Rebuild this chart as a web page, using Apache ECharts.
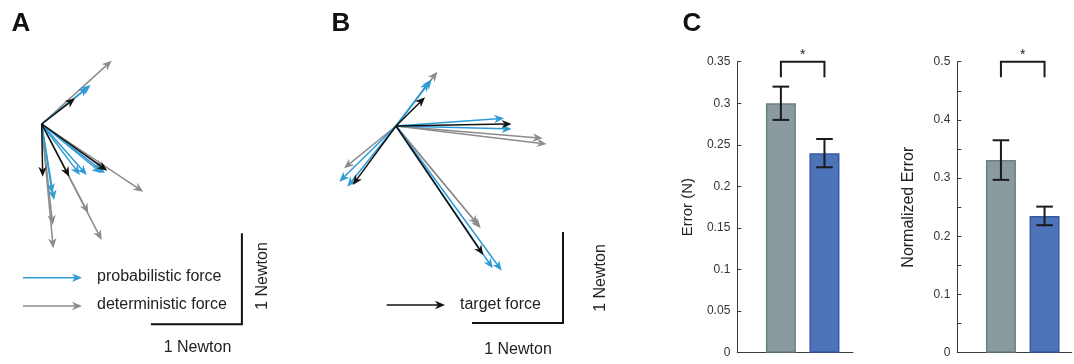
<!DOCTYPE html>
<html><head><meta charset="utf-8">
<script src="https://cdn.jsdelivr.net/npm/echarts@6/dist/echarts.min.js"></script>
<style>html,body{margin:0;padding:0;background:#fff}#c{width:1074px;height:364px}</style>
</head><body><div id="c"></div>
<script>
// ---------- DATA ----------
// Panel A: force vectors [dx, dy] in Newton, from common origin
const A_target = [[0.366,0.282],[0.011,-0.579],[0.303,-0.579],[0.721,-0.513]];
const A_prob   = [[0.512,0.403],[0.538,0.429],[0.116,-0.762],[0.135,-0.835],[0.421,-0.560],[0.495,-0.560],[0.659,-0.541],[0.696,-0.541]];
const A_det    = [[0.769,0.696],[0.121,-1.110],[0.127,-1.366],[0.512,-0.981],[0.659,-1.275],[1.116,-0.744],[0.685,-0.495]];
// Panel B
const B_target = [[0.319,0.315],[1.271,0.022],[-0.476,-0.648],[0.959,-1.418]];
const B_prob   = [[0.392,0.513],[0.366,0.487],[1.187,0.085],[1.271,-0.033],[-0.623,-0.612],[-0.535,-0.667],[1.063,-1.564],[1.162,-1.590]];
const B_det    = [[0.454,0.597],[1.612,-0.135],[1.656,-0.198],[-0.571,-0.465],[0.904,-1.088],[0.931,-1.124]];
// Panel C
const C_categories = ['deterministic','probabilistic'];
const C_error      = [0.300, 0.240];
const C_errorSE    = [0.020, 0.017];
const C_norm       = [0.331, 0.235];
const C_normSE     = [0.034, 0.016];
const C1_ticks = ['0','0.05','0.1','0.15','0.2','0.25','0.3','0.35'];
const C2_ticks = ['0','0.1','0.2','0.3','0.4','0.5'];
const SCALE_N = 1; // scale bar length, Newton

// ---------- LAYOUT ----------
const PX = 91; // pixels per Newton
const FONT = '"Liberation Sans", Arial, sans-serif';
const BLUE = '#2f9bd4', GRAY = '#8b8b8b', BLACK = '#111111';
const GRAY_BAR = '#8b9a9e', GRAY_EDGE = '#6b8186', BLUE_BAR = '#4d74b8', BLUE_EDGE = '#3858a4';

const chart = echarts.init(document.getElementById('c'), null, {renderer: 'canvas'});

function headPts(t, ux, uy) {
  const L = 10, W = 4.2, N = 3;
  const nx = -uy, ny = ux;
  const base = [t[0] - ux * L, t[1] - uy * L];
  const notch = [t[0] - ux * (L - N), t[1] - uy * (L - N)];
  return {poly: [t, [base[0] + nx * W, base[1] + ny * W], notch, [base[0] - nx * W, base[1] - ny * W]], notch};
}
function arrowRender(color) {
  return function (params, api) {
    const o = api.coord([0, 0]);
    const t = api.coord([api.value(0), api.value(1)]);
    const dx = t[0] - o[0], dy = t[1] - o[1];
    const len = Math.hypot(dx, dy);
    const ux = dx / len, uy = dy / len;
    const h = headPts(t, ux, uy);
    return {type: 'group', children: [
      {type: 'line', shape: {x1: o[0], y1: o[1], x2: h.notch[0], y2: h.notch[1]}, style: {stroke: color, lineWidth: 1.5}},
      {type: 'polygon', shape: {points: h.poly}, style: {fill: color}}
    ]};
  };
}
function legendArrow(x1, x2, y, color) {
  const h = headPts([x2, y], 1, 0);
  return {type: 'group', children: [
    {type: 'line', shape: {x1: x1, y1: y, x2: h.notch[0], y2: y}, style: {stroke: color, lineWidth: 1.5}},
    {type: 'polygon', shape: {points: h.poly}, style: {fill: color}}
  ]};
}
function scaleBarRender(params, api) {
  const cx = api.value(0), cy = api.value(1);
  const p0 = api.coord([cx, cy]);
  const pu = api.coord([cx, cy + SCALE_N]);
  const pl = api.coord([cx - SCALE_N, cy]);
  return {type: 'polyline', shape: {points: [pu, p0, pl]}, style: {stroke: '#111', lineWidth: 2, fill: null}};
}
function errRender(params, api) {
  const x = api.value(0), lo = api.value(1), hi = api.value(2);
  const a = api.coord([x, lo]), b = api.coord([x, hi]);
  const w = 8.3;
  const st = {stroke: '#1a1a1a', lineWidth: 2};
  return {type: 'group', children: [
    {type: 'line', shape: {x1: a[0], y1: a[1], x2: b[0], y2: b[1]}, style: st},
    {type: 'line', shape: {x1: a[0] - w, y1: a[1], x2: a[0] + w, y2: a[1]}, style: st},
    {type: 'line', shape: {x1: b[0] - w, y1: b[1], x2: b[0] + w, y2: b[1]}, style: st}
  ]};
}
function bracketRender(params, api) {
  const p1 = api.coord([api.value(0), api.value(2)]);
  const p2 = api.coord([api.value(1), api.value(2)]);
  const leg = 15.5;
  return {type: 'group', children: [
    {type: 'polyline', shape: {points: [[p1[0], p1[1] + leg], p1, p2, [p2[0], p2[1] + leg]]}, style: {stroke: '#1a1a1a', lineWidth: 2, fill: null}},
    {type: 'text', x: (p1[0] + p2[0]) / 2, y: p1[1] - 7, style: {text: '*', fill: '#1a1a1a', font: '14px ' + FONT, textAlign: 'center', textVerticalAlign: 'middle'}}
  ]};
}

// arrow grids
const oA = [41.7, 124], oB = [396, 126];
const gA = {left: 0, top: 0, width: 260, height: 364};
const gB = {left: 290, top: 0, width: 320, height: 364};
function rangeFor(g, o) {
  const xmin = -(o[0] - g.left) / PX, ymax = (o[1] - g.top) / PX;
  return {xmin, xmax: xmin + g.width / PX, ymax, ymin: ymax - g.height / PX};
}
const rA = rangeFor(gA, oA), rB = rangeFor(gB, oB);

const xs = C_categories.map((c, i) => i + 1);
const barData = (vals) => vals.map((v, i) => ({
  value: [xs[i], v],
  itemStyle: {color: i === 0 ? GRAY_BAR : BLUE_BAR, borderColor: i === 0 ? GRAY_EDGE : BLUE_EDGE, borderWidth: 1.5}
}));
const errData = (vals, se) => vals.map((v, i) => [xs[i], v - se[i], v + se[i]]);

const axisC = {
  type: 'value', min: 0, interval: 0.05,
  axisLine: {show: true, lineStyle: {color: '#3a3a3a', width: 1}},
  axisTick: {show: true, inside: true, length: 4, lineStyle: {color: '#3a3a3a'}},
  splitLine: {show: false},
  nameLocation: 'middle'
};

const option = {
  animation: false,
  backgroundColor: '#fff',
  grid: [
    Object.assign({}, gA),
    Object.assign({}, gB),
    {left: 737.3, top: 61.7, width: 115.7, height: 291},
    {left: 957.3, top: 61.7, width: 114.5, height: 291}
  ],
  xAxis: [
    {gridIndex: 0, type: 'value', min: rA.xmin, max: rA.xmax, show: false},
    {gridIndex: 1, type: 'value', min: rB.xmin, max: rB.xmax, show: false},
    {gridIndex: 2, type: 'value', min: 0, max: 2.655, axisLine: {show: true, onZero: false, lineStyle: {color: '#3a3a3a'}}, axisTick: {show: false}, axisLabel: {show: false}, splitLine: {show: false}},
    {gridIndex: 3, type: 'value', min: 0, max: 2.625, axisLine: {show: true, onZero: false, lineStyle: {color: '#3a3a3a'}}, axisTick: {show: false}, axisLabel: {show: false}, splitLine: {show: false}}
  ],
  yAxis: [
    {gridIndex: 0, type: 'value', min: rA.ymin, max: rA.ymax, show: false},
    {gridIndex: 1, type: 'value', min: rB.ymin, max: rB.ymax, show: false},
    Object.assign({}, axisC, {gridIndex: 2, max: 0.35, name: 'Error (N)', nameGap: 42,
      nameTextStyle: {color: '#222', fontFamily: FONT, fontSize: 15},
      axisLabel: {margin: 7, color: '#333', fontFamily: FONT, fontSize: 12,
        formatter: v => C1_ticks[Math.round(v / 0.05)] || ''}}),
    Object.assign({}, axisC, {gridIndex: 3, max: 0.5, name: 'Normalized Error', nameGap: 41,
      nameTextStyle: {color: '#222', fontFamily: FONT, fontSize: 16},
      axisLabel: {margin: 7, color: '#333', fontFamily: FONT, fontSize: 12,
        formatter: v => { const k = Math.round(v / 0.05); return k % 2 === 0 ? (C2_ticks[k / 2] || '') : ''; }}})
  ],
  series: [
    // Panel A
    {type: 'custom', xAxisIndex: 0, yAxisIndex: 0, renderItem: arrowRender(GRAY), data: A_det, z: 1},
    {type: 'custom', xAxisIndex: 0, yAxisIndex: 0, renderItem: arrowRender(BLUE), data: A_prob, z: 2},
    {type: 'custom', xAxisIndex: 0, yAxisIndex: 0, renderItem: arrowRender(BLACK), data: A_target, z: 3},
    {type: 'custom', xAxisIndex: 0, yAxisIndex: 0, renderItem: scaleBarRender, data: [[2.2, -2.2]]},
    // Panel B
    {type: 'custom', xAxisIndex: 1, yAxisIndex: 1, renderItem: arrowRender(GRAY), data: B_det, z: 1},
    {type: 'custom', xAxisIndex: 1, yAxisIndex: 1, renderItem: arrowRender(BLUE), data: B_prob, z: 2},
    {type: 'custom', xAxisIndex: 1, yAxisIndex: 1, renderItem: arrowRender(BLACK), data: B_target, z: 3},
    {type: 'custom', xAxisIndex: 1, yAxisIndex: 1, renderItem: scaleBarRender, data: [[1.835, -2.165]]},
    // Panel C left
    {type: 'bar', xAxisIndex: 2, yAxisIndex: 2, barWidth: 30, data: barData(C_error)},
    {type: 'custom', xAxisIndex: 2, yAxisIndex: 2, renderItem: errRender, data: errData(C_error, C_errorSE), z: 5},
    {type: 'custom', xAxisIndex: 2, yAxisIndex: 2, renderItem: bracketRender, data: [[xs[0], xs[1], 0.35]], z: 5},
    // Panel C right
    {type: 'bar', xAxisIndex: 3, yAxisIndex: 3, barWidth: 30, data: barData(C_norm)},
    {type: 'custom', xAxisIndex: 3, yAxisIndex: 3, renderItem: errRender, data: errData(C_norm, C_normSE), z: 5},
    {type: 'custom', xAxisIndex: 3, yAxisIndex: 3, renderItem: bracketRender, data: [[xs[0], xs[1], 0.5]], z: 5}
  ],
  graphic: [
    {type: 'text', x: 21, y: 24, style: {text: 'A', font: 'bold 26px ' + FONT, fill: '#111', textAlign: 'center', textVerticalAlign: 'middle'}},
    {type: 'text', x: 341, y: 24, style: {text: 'B', font: 'bold 26px ' + FONT, fill: '#111', textAlign: 'center', textVerticalAlign: 'middle'}},
    {type: 'text', x: 692, y: 24, style: {text: 'C', font: 'bold 26px ' + FONT, fill: '#111', textAlign: 'center', textVerticalAlign: 'middle'}},
    legendArrow(23, 82, 277.7, BLUE),
    legendArrow(23, 82, 306, GRAY),
    {type: 'text', x: 97, y: 277, style: {text: 'probabilistic force', font: '16px ' + FONT, fill: '#222', textAlign: 'left', textVerticalAlign: 'middle'}},
    {type: 'text', x: 97, y: 305, style: {text: 'deterministic force', font: '16px ' + FONT, fill: '#222', textAlign: 'left', textVerticalAlign: 'middle'}},
    {type: 'text', x: 197.5, y: 348, style: {text: '1 Newton', font: '16px ' + FONT, fill: '#222', textAlign: 'center', textVerticalAlign: 'middle'}},
    {type: 'text', x: 263, y: 276, rotation: Math.PI / 2, style: {text: '1 Newton', font: '16px ' + FONT, fill: '#222', textAlign: 'center', textVerticalAlign: 'middle'}},
    legendArrow(386.7, 445, 305, BLACK),
    {type: 'text', x: 460, y: 305, style: {text: 'target force', font: '16px ' + FONT, fill: '#222', textAlign: 'left', textVerticalAlign: 'middle'}},
    {type: 'text', x: 518, y: 350, style: {text: '1 Newton', font: '16px ' + FONT, fill: '#222', textAlign: 'center', textVerticalAlign: 'middle'}},
    {type: 'text', x: 601, y: 278, rotation: Math.PI / 2, style: {text: '1 Newton', font: '16px ' + FONT, fill: '#222', textAlign: 'center', textVerticalAlign: 'middle'}}
  ]
};
chart.setOption(option);
</script></body></html>
